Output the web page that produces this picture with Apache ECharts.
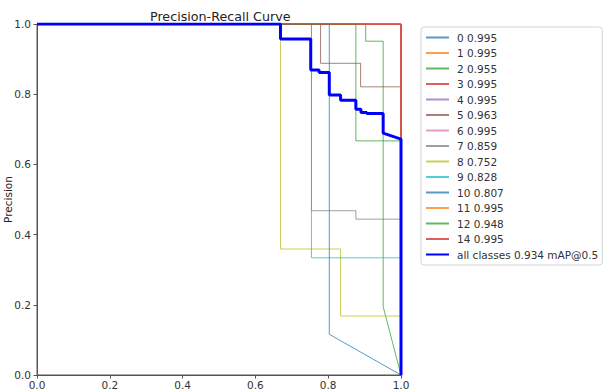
<!DOCTYPE html>
<html>
<head>
<meta charset="utf-8">
<script src="https://cdn.jsdelivr.net/npm/echarts@6/dist/echarts.min.js"></script>
<style>
html,body{margin:0;padding:0;background:#fff;}
#chart{width:612px;height:392px;}
</style>
</head>
<body>
<div id="chart"></div>
<script>
// Legend labels and class names
const classNames = ['0 0.995','1 0.995','2 0.955','3 0.995','4 0.995','5 0.963','6 0.995','7 0.859','8 0.752','9 0.828','10 0.807','11 0.995','12 0.948','14 0.995'];
const allClassesName = 'all classes 0.934 mAP@0.5';
const xTicks = [0, 0.2, 0.4, 0.6, 0.8, 1.0];
const yTicks = [0, 0.2, 0.4, 0.6, 0.8, 1.0];

// [recall, precision] points per class
const perfect = [[0,1],[1,1],[1,0]];
const class0 = perfect;
const class1 = perfect;
const class2 = [[0,1],[0.903,1],[0.903,0.951],[0.951,0.951],[0.951,0.195],[1,0]];
const class3 = perfect;
const class4 = perfect;
const class5 = [[0,1],[0.779,1],[0.779,0.888],[0.889,0.888],[0.889,0.821],[1,0.821],[1,0]];
const class6 = perfect;
const class7 = [[0,1],[0.754,1],[0.754,0.468],[0.876,0.468],[0.876,0.444],[1,0.444],[1,0]];
const class8 = [[0,1],[0.669,1],[0.669,0.359],[0.834,0.359],[0.834,0.168],[1,0.168],[1,0]];
const class9 = [[0,1],[0.754,1],[0.754,0.334],[1,0.334],[1,0]];
const class10 = [[0,1],[0.803,1],[0.803,0.116],[1,0]];
const class11 = perfect;
const class12 = [[0,1],[0.876,1],[0.876,0.667],[1,0.667],[1,0]];
const class14 = perfect;
const allClasses = [[0,1],[0.669,1],[0.669,0.957],[0.752,0.957],[0.752,0.869],[0.775,0.869],[0.775,0.862],[0.803,0.862],[0.803,0.798],[0.834,0.798],[0.834,0.783],[0.876,0.783],[0.876,0.757],[0.89,0.757],[0.89,0.748],[0.906,0.748],[0.906,0.745],[0.951,0.745],[0.951,0.689],[1,0.672],[1,0]];

const classData = [class0,class1,class2,class3,class4,class5,class6,class7,class8,class9,class10,class11,class12,class14];
const tab10 = ['#1f77b4','#ff7f0e','#2ca02c','#d62728','#9467bd','#8c564b','#e377c2','#7f7f7f','#bcbd22','#17becf'];

const series = classData.map((d, i) => ({
  name: classNames[i],
  type: 'line',
  data: d,
  symbol: 'none',
  showSymbol: false,
  clip: true,
  animation: false,
  color: tab10[i % 10],
  lineStyle: {width: 1, color: tab10[i % 10], opacity: 0.75}
}));
series.push({
  name: allClassesName,
  type: 'line',
  data: allClasses,
  symbol: 'none',
  showSymbol: false,
  clip: true,
  animation: false,
  color: '#0000ff',
  lineStyle: {width: 3, color: '#0000ff'}
});

const axisCommon = {
  type: 'value', min: 0, max: 1, interval: 0.2,
  axisLine: {show: true, onZero: false, lineStyle: {color: '#555', width: 1}},
  axisTick: {show: true, length: 3.5, inside: false, lineStyle: {color: '#555'}},
  splitLine: {show: false},
  axisLabel: {fontFamily: 'DejaVu Sans', fontSize: 10.5, color: '#333', formatter: v => v.toFixed(1)}
};

const chart = echarts.init(document.getElementById('chart'), null, {renderer: 'svg'});
chart.setOption({
  animation: false,
  backgroundColor: '#fff',
  title: {
    text: 'Precision-Recall Curve',
    left: 145, top: 5,
    textStyle: {fontFamily: 'DejaVu Sans', fontSize: 12.7, fontWeight: 'normal', color: '#222'}
  },
  grid: {left: 37, right: 211, top: 24, bottom: 17, containLabel: false, outerBoundsMode: 'none', show: true, borderColor: '#555', borderWidth: 1, backgroundColor: 'transparent'},
  xAxis: Object.assign({}, axisCommon, {axisLabel: Object.assign({}, axisCommon.axisLabel, {margin: 4})}),
  yAxis: Object.assign({}, axisCommon, {
    name: 'Precision', nameLocation: 'middle', nameGap: 24, nameRotate: 90, nameMoveOverlap: false,
    nameTextStyle: {fontFamily: 'DejaVu Sans', fontSize: 10.5, color: '#222'},
    axisLabel: Object.assign({}, axisCommon.axisLabel, {margin: 6})
  }),
  legend: {
    orient: 'vertical', left: 421, top: 27,
    padding: [5, 4, 5, 4],
    itemWidth: 23, itemHeight: 10, itemGap: 4.5,
    itemStyle: {opacity: 0},
    borderColor: '#d5d5d5', borderWidth: 1, borderRadius: 3,
    textStyle: {fontFamily: 'DejaVu Sans', fontSize: 10.5, color: '#333', padding: [0, 0, 0, 3]},
    data: classNames.concat([allClassesName])
  },
  series: series
});
</script>
</body>
</html>
